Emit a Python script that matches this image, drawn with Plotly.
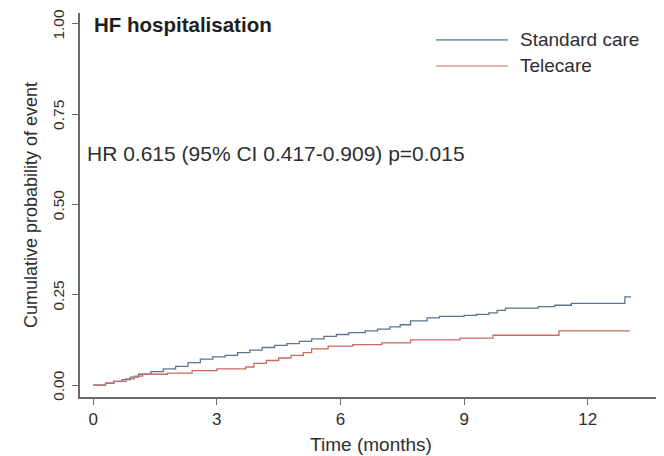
import plotly.graph_objects as go

# Data (months, cumulative probability)
std_time = [0, 0.3, 0.5, 0.7, 0.9, 1.1, 1.4, 1.7, 2.0, 2.3, 2.6, 2.9, 3.2, 3.5, 3.8, 4.1,
            4.4, 4.7, 5.0, 5.3, 5.6, 5.9, 6.2, 6.6, 6.9, 7.2, 7.45, 7.7, 8.1, 8.4, 9.0,
            9.3, 9.6, 9.8, 10.0, 10.8, 11.2, 11.6, 12.9, 13.05]
std_prob = [0, 0.005, 0.01, 0.015, 0.022, 0.03, 0.037, 0.045, 0.052, 0.062, 0.072, 0.078,
            0.082, 0.09, 0.097, 0.104, 0.11, 0.115, 0.121, 0.128, 0.135, 0.14, 0.145, 0.15,
            0.155, 0.161, 0.167, 0.178, 0.186, 0.19, 0.193, 0.196, 0.2, 0.207, 0.213, 0.217,
            0.221, 0.226, 0.244, 0.244]

tele_time = [0, 0.3, 0.5, 0.8, 1.0, 1.2, 1.8, 2.4, 3.0, 3.7, 3.9, 4.2, 4.5, 4.8, 5.1, 5.3,
             5.7, 6.3, 7.0, 7.7, 8.9, 9.7, 11.3, 13.02]
tele_prob = [0, 0.005, 0.01, 0.017, 0.025, 0.03, 0.033, 0.04, 0.045, 0.05, 0.06, 0.068,
             0.075, 0.082, 0.09, 0.1, 0.108, 0.112, 0.117, 0.125, 0.13, 0.138, 0.15, 0.15]

series_names = ["Standard care", "Telecare"]
series_colors = ["#5b7591", "#c96b62"]
legend_colors = ["#7f97af", "#dc9c92"]

x_ticks = [0, 3, 6, 9, 12]
y_ticks = [0.0, 0.25, 0.5, 0.75, 1.0]
y_ticklabels = ["0.00", "0.25", "0.50", "0.75", "1.00"]

title_text = "<b>HF hospitalisation</b>"
hr_text = "HR 0.615 (95% CI 0.417-0.909) p=0.015"

FONT = "Liberation Sans, Arial, sans-serif"
TXT = "#2e2e2e"

fig = go.Figure()
for t, p, name, col in [(std_time, std_prob, series_names[0], series_colors[0]),
                        (tele_time, tele_prob, series_names[1], series_colors[1])]:
    fig.add_trace(go.Scatter(x=t, y=p, mode="lines", name=name,
                             line=dict(color=col, width=1.3, shape="hv"),
                             showlegend=False))

# Manual legend
leg_y = [0.930, 0.862]
for name, col, yy in zip(series_names, legend_colors, leg_y):
    fig.add_shape(type="line", xref="paper", yref="paper", x0=0.612, x1=0.735,
                  y0=yy, y1=yy, line=dict(color=col, width=1.6))
    fig.add_annotation(xref="paper", yref="paper", x=0.753, y=yy, text=name,
                       showarrow=False, xanchor="left", yanchor="middle",
                       font=dict(family=FONT, size=19, color=TXT))

fig.add_annotation(xref="paper", yref="paper", x=0.021, y=0.969, text=title_text,
                   showarrow=False, xanchor="left", yanchor="middle",
                   font=dict(family=FONT, size=20.5, color="#1e1e1e"))
fig.add_annotation(xref="paper", yref="paper", x=0.008, y=0.635, text=hr_text,
                   showarrow=False, xanchor="left", yanchor="middle",
                   font=dict(family=FONT, size=21, color=TXT))

# page has an 8px body margin, so the figure is 8px smaller and shifted
fig.update_layout(
    width=656, height=448,
    margin=dict(l=72, r=2, t=5, b=59),
    paper_bgcolor="white", plot_bgcolor="white",
    font=dict(family=FONT, size=16, color=TXT),
    xaxis=dict(range=[-0.32, 13.8], tickvals=x_ticks, ticktext=[str(v) for v in x_ticks],
               automargin=False,
               showgrid=False, zeroline=False, showline=True, linecolor="#6a6a6a",
               linewidth=1.5, ticks="outside", ticklen=6, tickcolor="#6a6a6a", tickwidth=1.2,
               tickfont=dict(size=17, color=TXT),
               title=dict(text="Time (months)", font=dict(size=19, color=TXT), standoff=10)),
    yaxis=dict(range=[-0.033, 1.030], tickvals=y_ticks, ticktext=y_ticklabels,
               tickangle=-90, automargin=False, ticklabelstandoff=2,
               ticklabeloverflow="allow", ticklabelshift=3,
               showgrid=False, zeroline=False, showline=True, linecolor="#6a6a6a",
               linewidth=1.5, ticks="outside", ticklen=6, tickcolor="#6a6a6a", tickwidth=1.2,
               tickfont=dict(size=15.5, color=TXT),
               title=dict(text="Cumulative probability of event",
                          font=dict(size=18, color=TXT), standoff=8)),
)

fig.write_html("out.html")
